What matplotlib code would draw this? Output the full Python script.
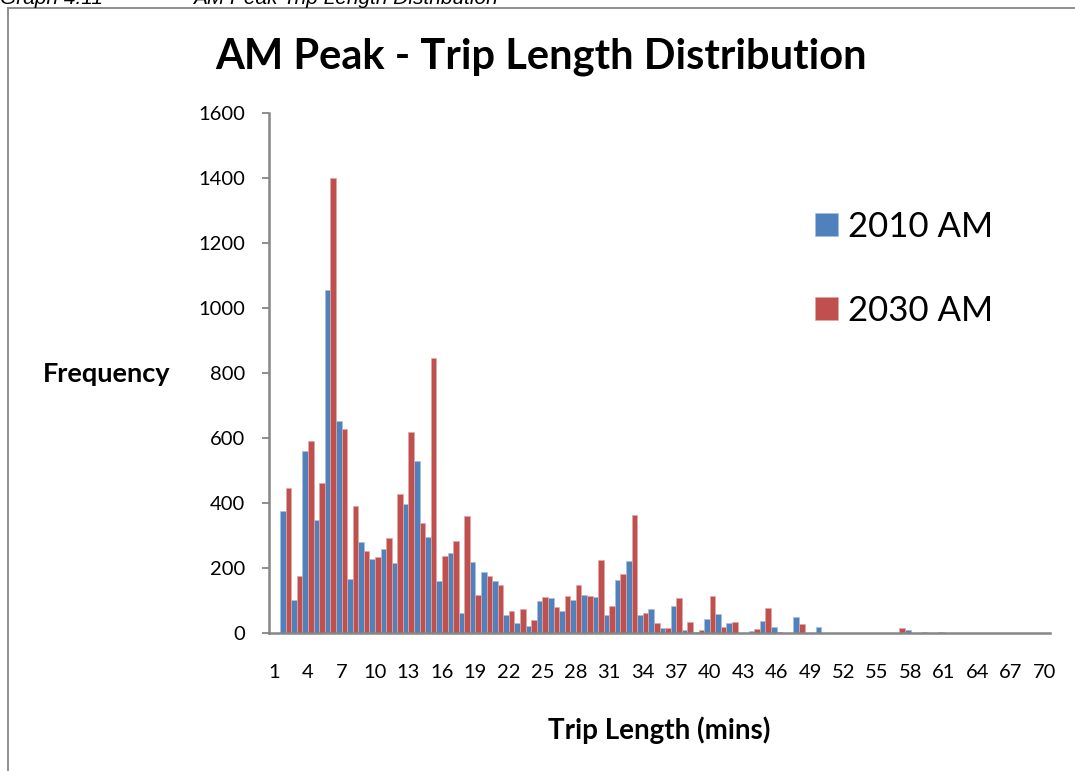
import numpy as np
import matplotlib.pyplot as plt
from matplotlib.lines import Line2D

# trip length categories (mins)
mins = np.arange(1, 71)

am_2010 = [0, 375, 101, 560, 349, 1056, 652, 167, 279, 227,
           258, 216, 397, 528, 295, 159, 247, 63, 217, 187,
           161, 54, 30, 22, 97, 107, 67, 102, 118, 112,
           56, 163, 223, 55, 74, 16, 83, 8, 3, 42,
           60, 30, 0, 7, 36, 20, 0, 50, 0, 19,
           0, 0, 0, 0, 0, 0, 0, 8, 0, 0,
           2, 0, 0, 0, 0, 0, 0, 0, 0, 0]
am_2030 = [0, 447, 175, 591, 463, 1399, 627, 390, 252, 234,
           292, 428, 617, 338, 846, 237, 283, 360, 116, 174,
           148, 69, 74, 40, 111, 80, 115, 147, 114, 225,
           84, 183, 364, 63, 32, 14, 107, 34, 9, 114,
           19, 33, 0, 12, 77, 4, 0, 27, 0, 0,
           0, 0, 0, 0, 0, 0, 15, 0, 2, 0,
           0, 0, 0, 0, 0, 0, 0, 0, 0, 0]
xticks = mins[::3]
yticks = np.arange(0, 1601, 200)

blue = "#4F81BD"
red = "#C0504D"
grey = "#868686"
font = ["Lato", "DejaVu Sans"]

fig = plt.figure(figsize=(10.75, 7.71), dpi=100)
ax = fig.add_axes([269/1075, 1-633/771, 781/1075, 520/771])

w = 0.5
ax.bar(mins - w/2, am_2010, w, color=blue, edgecolor="#A7C0DE", linewidth=0.5, label="2010 AM")
ax.bar(mins + w/2, am_2030, w, color=red, edgecolor="#E0A9A7", linewidth=0.5, label="2030 AM")

ax.set_xlim(0.5, 70.5)
ax.set_ylim(0, 1600)
ax.set_yticks(yticks)
ax.set_xticks(xticks)
ax.set_xticklabels([str(v) for v in xticks], family=font, fontsize=14.5)
ax.set_yticklabels([str(v) for v in yticks], family=font, fontsize=14.5)
ax.tick_params(axis="x", length=0, pad=22)
ax.tick_params(axis="y", length=5, width=1.3, color=grey, pad=12, direction="out")
for s in ["top", "right"]:
    ax.spines[s].set_visible(False)
for s in ["left", "bottom"]:
    ax.spines[s].set_color(grey)
    ax.spines[s].set_linewidth(1.8)

fig.text(541/1075, 1-57/771, "AM Peak - Trip Length Distribution", ha="center", va="center",
         family=font, fontsize=30, fontweight="bold")
fig.text(107/1075, 1-374/771, "Frequency", ha="center", va="center",
         family=font, fontsize=19.5, fontweight="bold")
fig.text(659/1075, 1-730/771, "Trip Length (mins)", ha="center", va="center",
         family=font, fontsize=20, fontweight="bold")

leg = fig.legend(loc="upper left", bbox_to_anchor=(815/1075, 1-211/771), frameon=False,
                 prop={"family": font, "size": 25}, handlelength=0.65, handleheight=0.65,
                 handletextpad=0.3, labelspacing=1.5, borderpad=0, borderaxespad=0)

# outer frame of the chart object and the cut-off caption above it
fig.add_artist(Line2D([8/1075, 8/1075], [0, 1-8/771], color=grey, lw=1.3))
fig.add_artist(Line2D([8/1075, 1], [1-8/771, 1-8/771], color=grey, lw=1.3))
fig.text(0, 1-4/771, "Graph 4.11", ha="left", va="baseline",
         family=["Liberation Sans"], style="italic", fontsize=15)
fig.text(193/1075, 1-4/771, "AM Peak Trip Length Distribution", ha="left", va="baseline",
         family=["Liberation Sans"], style="italic", fontsize=15)

fig.savefig("out.png", dpi=100)
